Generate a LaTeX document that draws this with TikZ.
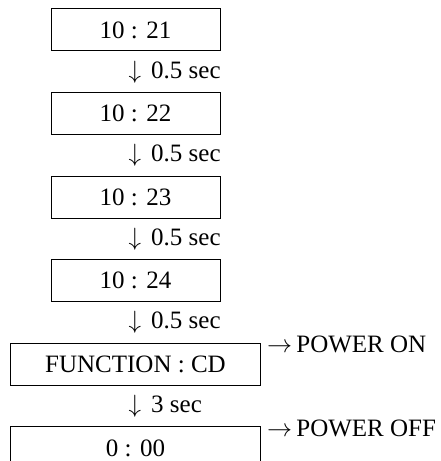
\documentclass[tikz,border=0pt]{standalone}
\usepackage{fontspec}
\usepackage{fix-cm}
\setmainfont{Liberation Serif}
\usetikzlibrary{calc,positioning}
\tikzset{
  dispbox/.style={draw=black,line width=1pt,inner sep=0pt,minimum height=42pt,align=center,font=\fontsize{25}{30}\selectfont},
  smallbox/.style={dispbox,minimum width=169pt},
  widebox/.style={dispbox,minimum width=250pt},
  delay/.style={anchor=west,inner sep=0pt,font=\fontsize{25}{30}\selectfont},
  power/.style={anchor=west,inner sep=0pt,font=\fontsize{25}{30}\selectfont}
}
\newcommand{\waitfor}[1]{$\downarrow$\hspace{10pt}#1 sec}

\begin{document}
\begin{tikzpicture}[x=1pt,y=1pt,node distance=40.6pt]
  \clip (0,0) rectangle (440,461);
  \node[smallbox] (t21) at (135.5,431) {10 : 21};
  \node[smallbox,below=of t21] (t22) {10 : 22};
  \node[smallbox,below=of t22] (t23) {10 : 23};
  \node[smallbox,below=of t23] (t24) {10 : 24};
  \node[widebox,below=of t24] (func) {FUNCTION : CD};
  \node[widebox,below=of func] (zero) {0 : 00};

  % delays between the displays
  \node[delay] (d1) at ($(t21.south)!0.5!(t22.north)+(-7,0)$) {\waitfor{0.5}};
  \node[delay] (d2) at ($(t22.south)!0.5!(t23.north)+(-7,0)$) {\waitfor{0.5}};
  \node[delay] (d3) at ($(t23.south)!0.5!(t24.north)+(-7,0)$) {\waitfor{0.5}};
  \node[delay] (d4) at ($(t24.south)!0.5!(func.north)+(-7,0)$) {\waitfor{0.5}};
  \node[delay] (d5) at ($(func.south)!0.5!(zero.north)+(-7,0)$) {\waitfor{3}};

  \node[power] (pon) at ($(func.north east)+(6,-1.5)$) {$\rightarrow$\,POWER ON};
  \node[power] (poff) at ($(zero.north east)+(6,-1.5)$) {$\rightarrow$\,POWER OFF};
\end{tikzpicture}
\end{document}
